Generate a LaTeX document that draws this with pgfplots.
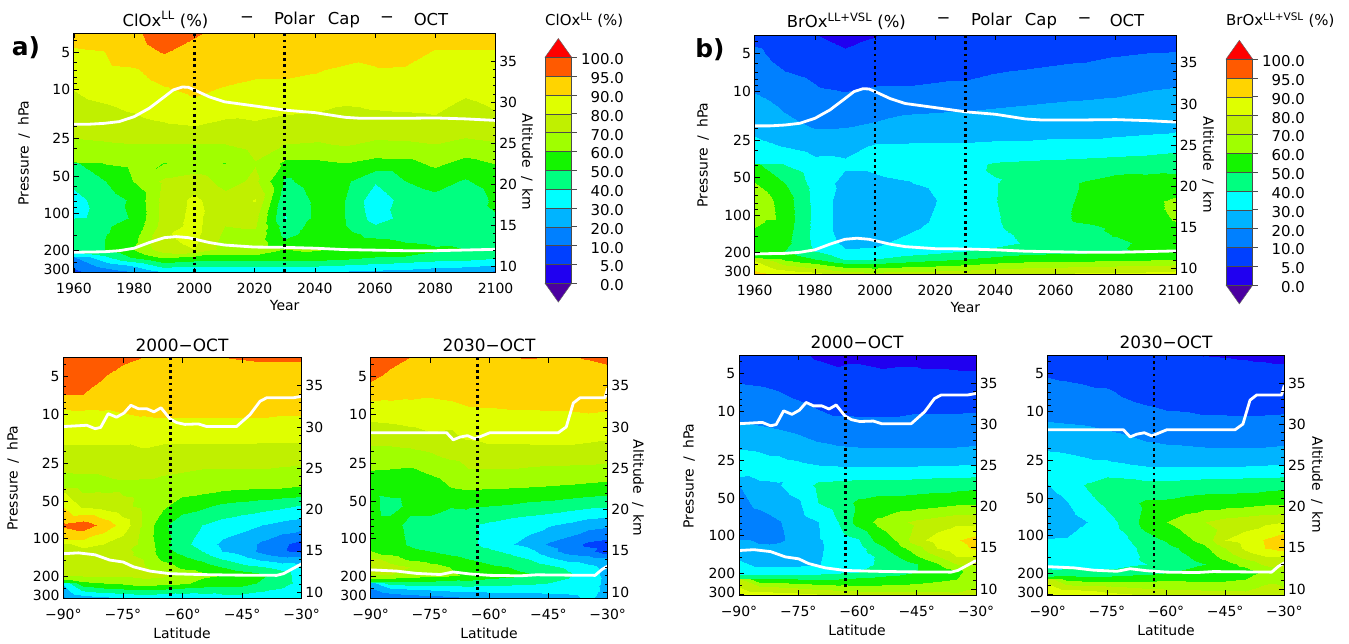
\documentclass[border=0pt]{standalone}
\usepackage{fontspec}
\usepackage{pgfplots}
\pgfplotsset{compat=1.18}
\setmainfont{DejaVu Sans}
\definecolor{c0}{RGB}{75,0,160}\definecolor{c1}{RGB}{32,0,240}\definecolor{c2}{RGB}{0,64,255}\definecolor{c3}{RGB}{0,128,255}
\definecolor{c4}{RGB}{0,180,255}\definecolor{c5}{RGB}{0,255,255}\definecolor{c6}{RGB}{0,255,128}\definecolor{c7}{RGB}{20,245,0}
\definecolor{c8}{RGB}{160,255,0}\definecolor{c9}{RGB}{192,240,0}\definecolor{c10}{RGB}{223,255,0}\definecolor{c11}{RGB}{255,212,0}
\definecolor{c12}{RGB}{255,90,0}\definecolor{c13}{RGB}{255,0,0}
\newcommand{\fs}[1]{\fontsize{#1}{#1}\selectfont}
\pgfplotsset{colormap={cb}{rgb255=(75,0,160) rgb255=(32,0,240) rgb255=(0,64,255) rgb255=(0,128,255) rgb255=(0,180,255) rgb255=(0,255,255) rgb255=(0,255,128) rgb255=(20,245,0) rgb255=(160,255,0) rgb255=(192,240,0) rgb255=(223,255,0) rgb255=(255,212,0) rgb255=(255,90,0) rgb255=(255,0,0)}}
\pgfplotsset{
 every axis/.append style={scale only axis,axis on top,line width=0.9bp,tick style={line width=0.7bp,black},
  major tick length=5bp,minor tick length=3bp,tick align=inside,tick label style={font=\fs{14}}},
 presticks/.style={ytick={5,10,25,50,100,200,300},yticklabels={5,10,25,50,100,200,\raisebox{5.5bp}{300}},
  minor ytick={4,6,7,8,9,20,30,40,60,70,80,90,150,250},ytick pos=left},
 years/.style={xmin=1960,xmax=2100,xtick={1960,1980,2000,2020,2040,2060,2080,2100},xticklabels={1960,1980,2000,2020,2040,2060,2080,2100},xticklabel style={yshift=-7bp}},
 lats/.style={xmin=-90,xmax=-30,xtick={-90,-75,-60,-45,-30},xticklabels={−90°,−75°,−60°,−45°,−30°},xticklabel style={yshift=-7bp}},
 metaexpr/.style={contour filled={number=14},point meta={ifthenelse(\thisrowno{0}<10,\thisrowno{0}/5,ifthenelse(\thisrowno{0}<90,1+\thisrowno{0}/10,10+(\thisrowno{0}-90)/5))}},
 ftop/.style={metaexpr,mesh/cols=15},
 flat/.style={metaexpr,mesh/cols=13},
 table/ttop/.style={header=false,row sep=\\,x expr={1960+10*mod(\coordindex,15)},y expr={10^(0.54+0.15*min(floor(\coordindex/15),10)+0.0625*max(floor(\coordindex/15)-10,0))}},
 table/tlat/.style={header=false,row sep=\\,x expr={-90+5*mod(\coordindex,13)},y expr={10^(0.54+0.15*min(floor(\coordindex/13),10)+0.0625*max(floor(\coordindex/13)-10,0))}},
 whl/.style={white,line width=2.8bp,no markers,line join=round},
 dotl/.style={black,line width=2.6bp,dash pattern=on 2.6bp off 3.6bp,no markers,forget plot},
}
\newcommand{\altaxis}[4]{%
\begin{axis}[at={(#1bp,-#2bp)},anchor=south west,width=#3bp,height=#4bp,xmin=0,xmax=1,ymin=9.27,ymax=38.39,axis x line=none,axis y line*=right,
 ytick={10,15,20,25,30,35},yticklabels={10,15,20,25,30,35},minor y tick num=4]
\addplot[draw=none,forget plot] coordinates {(0,10)(1,35)};
\end{axis}}
\newcommand{\vdl}[1]{\addplot[dotl] coordinates {(#1,3.53)(#1,301)};}
\newcommand{\topw}{
\addplot[whl] coordinates {(1960,19.1)(1965,19.1)(1970,18.8)(1975,18.2)(1980,16.6)(1985,14.2)(1990,11.5)(1993,10.1)(1996,9.57)(1998,9.62)(2000,10.1)(2005,11.5)(2010,12.6)(2020,13.6)(2030,14.7)(2040,15.4)(2050,16.8)(2055,17.1)(2070,17.1)(2080,17.0)(2090,17.3)(2100,17.8)};
\addplot[whl] coordinates {(1960,206)(1970,204)(1975,200)(1980,191)(1985,172)(1990,157)(1994,154)(1998,157)(2005,172)(2010,180)(2020,187)(2030,188)(2040,191)(2050,196)(2070,200)(2080,200)(2100,195)};
\vdl{2000}\vdl{2030}}
\newcommand{\wA}{
\addplot[whl] coordinates {(-90,12.6)(-84.1,12.3)(-82,13.1)(-80.6,12.8)(-78.7,9.93)(-76.6,10.6)(-74.7,9.8)(-73,8.5)(-71.1,9.06)(-69,9.06)(-67.2,9.6)(-65.4,8.9)(-63.2,10.9)(-61.5,11.7)(-59.4,12.1)(-56,12.0)(-53.9,12.6)(-46.4,12.6)(-43,10.1)(-40.5,7.9)(-38.8,7.4)(-32.1,7.4)(-30,7.2)};
\addplot[whl] coordinates {(-90,132)(-86.2,130)(-82,134.7)(-78.3,148.5)(-74.9,154)(-72.4,168)(-68.2,182)(-63.2,191)(-55.6,194)(-47.2,196)(-36.3,197)(-34.6,191)(-32.1,173)(-30,159)};
\vdl{-63}}
\newcommand{\wB}{
\addplot[whl] coordinates {(-90,14.1)(-70.8,14.1)(-69.1,16.1)(-67.4,15.3)(-65.5,14.9)(-63.6,15.8)(-59.8,14.1)(-42.5,14.1)(-40.5,12.7)(-38.7,8.15)(-37,7.4)(-30.7,7.4)(-30,6.2)};
\addplot[whl] coordinates {(-90,178)(-83.4,182)(-78.4,190)(-72.4,194)(-69.1,185)(-64.9,192)(-59.8,197)(-52.2,198.6)(-48,195)(-41.2,196)(-33.2,197)(-31.5,177)(-30,166)};
\vdl{-63}}
\newcommand{\cbar}[3]{%
\begin{axis}[at={(#1bp,-#2bp)},anchor=south west,width=26.7bp,height=263.6bp,xmin=0,xmax=1,ymin=-1,ymax=13,xtick=\empty,
 ytick={0,...,12},yticklabels={0.0,5.0,10.0,20.0,30.0,40.0,50.0,60.0,70.0,80.0,90.0,95.0,100.0},ytick pos=right,tick align=outside,
 yticklabel style={anchor=east,xshift=#3bp,yshift=-2bp,font=\fs{15}},axis line style={draw=none},clip=false,tick style={color=black!70,line width=0.7bp}]
\addplot[fill=c0,draw=black!60,line width=0.5bp] coordinates {(0,0)(1,0)(0.5,-1)} --cycle;
\addplot[fill=c13,draw=black!60,line width=0.5bp] coordinates {(0,12)(1,12)(0.5,13)} --cycle;
\addplot[fill=c1,draw=black!70,line width=0.5bp] coordinates {(0,0)(1,0)(1,1)(0,1)} --cycle;
\addplot[fill=c2,draw=black!70,line width=0.5bp] coordinates {(0,1)(1,1)(1,2)(0,2)} --cycle;
\addplot[fill=c3,draw=black!70,line width=0.5bp] coordinates {(0,2)(1,2)(1,3)(0,3)} --cycle;
\addplot[fill=c4,draw=black!70,line width=0.5bp] coordinates {(0,3)(1,3)(1,4)(0,4)} --cycle;
\addplot[fill=c5,draw=black!70,line width=0.5bp] coordinates {(0,4)(1,4)(1,5)(0,5)} --cycle;
\addplot[fill=c6,draw=black!70,line width=0.5bp] coordinates {(0,5)(1,5)(1,6)(0,6)} --cycle;
\addplot[fill=c7,draw=black!70,line width=0.5bp] coordinates {(0,6)(1,6)(1,7)(0,7)} --cycle;
\addplot[fill=c8,draw=black!70,line width=0.5bp] coordinates {(0,7)(1,7)(1,8)(0,8)} --cycle;
\addplot[fill=c9,draw=black!70,line width=0.5bp] coordinates {(0,8)(1,8)(1,9)(0,9)} --cycle;
\addplot[fill=c10,draw=black!70,line width=0.5bp] coordinates {(0,9)(1,9)(1,10)(0,10)} --cycle;
\addplot[fill=c11,draw=black!70,line width=0.5bp] coordinates {(0,10)(1,10)(1,11)(0,11)} --cycle;
\addplot[fill=c12,draw=black!70,line width=0.5bp] coordinates {(0,11)(1,11)(1,12)(0,12)} --cycle;
\end{axis}}
\newcommand{\T}[4][0]{\node[rotate=#1,inner sep=0pt,font=\fs{14}] at (#2bp,-#3bp) {#4};}
\newcommand{\W}[3]{\node[inner sep=0pt,font=\fs{16.5}] at (#1bp,-#2bp) {#3};}
\newcommand{\PP}{Pressure\hspace{.55em}/\hspace{.55em}hPa}
\newcommand{\AK}{Altitude\hspace{.55em}/\hspace{.55em}km}
\begin{document}
\begin{tikzpicture}
\useasboundingbox (0,0) rectangle (1349bp,-644bp);
% ---------- a) top
\begin{axis}[at={(73.9bp,-272.7bp)},anchor=south west,width=421.7bp,height=239.4bp,ymode=log,y dir=reverse,ymin=3.53,ymax=301,colormap name=cb,point meta min=-1,point meta max=13,presticks,years]
\addplot[ftop] table[ttop]{
92\\93\\94\\98\\96\\93\\93\\92\\92\\92\\92\\92\\93\\93\\93\\
89\\90\\93\\95.5\\93\\93\\92\\92\\92\\92\\91\\92\\89.5\\89.5\\89.5\\
87\\88\\89\\92\\92\\92\\91\\91\\90.3\\88.5\\89.5\\89\\87\\87\\87\\
80.5\\84\\86\\89.5\\91\\89.5\\88\\88\\87.5\\85.5\\86\\86\\85\\82\\84\\
77\\79\\81.5\\85\\88\\84\\83\\81.5\\81\\79.5\\80.5\\81\\81.5\\78\\80.5\\
74\\75.5\\77\\79\\80.3\\78\\79\\78\\78\\77\\77\\77\\78\\76\\78\\
68\\69\\70\\70\\70\\70\\74\\70\\69\\71\\68\\68.5\\70\\67\\69\\
59.5\\60.5\\63\\59.8\\62\\59.8\\69.5\\58\\58\\60\\57\\57\\62\\57\\60.5\\
48\\49.5\\60.5\\72\\76\\66\\72\\48\\55\\52\\41\\50\\54\\49\\56\\
37\\44\\52\\74\\82\\74\\80.5\\42\\52\\50\\34\\44\\47\\41\\53\\
36\\46\\51\\74\\83\\72\\73\\39.5\\52\\50\\36\\43\\44\\43\\49\\
40\\49\\53\\75\\83\\70\\71\\45\\53\\50.5\\41\\44\\43\\44\\46\\
45\\49.5\\56\\79\\83\\68\\68\\47\\54\\53\\47\\46\\45\\46\\46\\
50\\50\\58\\78\\82\\66\\66\\52\\55\\55\\53\\50\\47\\48\\47\\
45\\50\\61\\76\\80\\66\\66\\60\\61\\59\\59\\58\\52\\50\\49\\
32\\38\\52\\62\\58\\58\\58\\58\\56\\54\\50\\49\\46\\45\\42\\
20\\24\\32\\45\\42\\42\\42\\42\\42\\40\\38\\36\\34\\33\\30\\
8\\12\\18\\28\\27\\27\\27\\28\\28\\27\\26\\25\\22\\20\\16\\
};
\topw
\end{axis}
\altaxis{73.9}{272.7}{421.7}{239.4}
\cbar{545}{302.1}{51}
% ---------- b) top
\begin{axis}[at={(754.7bp,-274.3bp)},anchor=south west,width=421.3bp,height=239.3bp,ymode=log,y dir=reverse,ymin=3.53,ymax=301,colormap name=cb,point meta min=-1,point meta max=13,presticks,years]
\addplot[ftop] table[ttop]{
8.2\\7\\5\\3.5\\4.8\\6\\6.5\\7\\7\\7\\7\\7\\7\\7\\8\\
12\\8\\7\\5.5\\6\\6.5\\6.5\\7\\7.5\\8\\8.5\\9\\9.7\\10\\10.3\\
15\\10\\9\\7\\8\\8.5\\8.5\\9\\9.8\\10.5\\11.5\\12\\12.5\\13\\14\\
19\\14\\11\\9.8\\11\\11\\12\\12\\13\\15\\16\\17\\18\\19.7\\21\\
25\\19\\15\\14\\15\\18\\18.5\\19\\20\\21\\22\\22.5\\23\\24\\25\\
27\\23\\19.5\\19.7\\22\\24\\25\\25\\26\\26\\27\\27\\27\\27.5\\28\\
33\\29.5\\26\\27\\31\\31\\31\\31\\31.5\\31.5\\32\\32\\33\\34\\36\\
39.7\\39.5\\33\\31.5\\31.5\\33\\33\\37\\41\\42\\43\\44\\45\\46\\47\\
52\\50\\36\\27\\28.5\\29.5\\31.5\\38\\39.5\\45\\47\\51\\54\\53.5\\53\\
68\\55\\37\\25\\25\\25.5\\29.7\\38\\39.7\\45\\47\\52\\57\\57\\62\\
69\\56\\37\\25\\25\\26\\31\\38\\39\\45\\48\\52\\56\\57\\60.5\\
62\\55\\37\\25\\25\\27\\33\\38\\38.5\\44\\46\\47\\52\\56\\57\\
58\\54\\37\\26\\26\\30\\35\\38\\37\\42\\45\\47\\50.5\\54\\55\\
55\\53\\38\\28\\28\\33\\36\\38\\36.5\\41\\45\\47\\48\\52\\54\\
52\\50\\40\\31\\32\\35\\37\\40\\43\\46\\47\\48\\49\\51\\52\\
62\\58\\50\\39\\40\\44\\47\\50\\53\\55\\56\\56\\57\\58\\59\\
78\\72\\66\\57\\55\\58\\60\\62\\65\\67\\68\\69\\70\\71\\72\\
92\\88\\84\\76\\74\\75\\76\\77\\78\\80\\81\\82\\82\\83\\85\\
};
\topw
\end{axis}
\altaxis{754.7}{274.3}{421.3}{239.3}
\cbar{1226}{303.9}{51}
% ---------- a) 2000
\begin{axis}[at={(63.3bp,-598.3bp)},anchor=south west,width=238.4bp,height=240.6bp,ymode=log,y dir=reverse,ymin=3.53,ymax=301,colormap name=cb,point meta min=-1,point meta max=13,presticks,lats]
\addplot[flat] table[tlat]{
98\\98\\97.5\\96.5\\95\\94\\94\\94\\95\\95.5\\96\\96\\96\\
98\\97.5\\95.5\\93\\92\\92\\92\\92\\92\\92\\92\\92\\92\\
95.2\\95\\93\\92\\92\\92\\92\\92\\92\\92\\92\\92\\92\\
88\\88.5\\89\\90\\90.5\\91\\91\\91\\91\\91\\91\\90.5\\90.5\\
85\\85\\85\\85\\84\\84\\84\\84\\84\\84\\84\\84\\84\\
78\\78\\78\\78\\79.5\\78\\78\\78\\78\\78\\77\\77\\77\\
70.5\\71\\71\\72\\72\\72\\71\\70\\70\\70\\70\\69\\68\\
67\\67\\68\\68.5\\68\\66\\65\\64\\62\\61\\60.5\\60\\59\\
78\\78\\76\\72\\68\\62\\54.5\\52\\48\\46\\44\\42\\39\\
96\\98\\93.5\\86\\69\\52\\44\\40\\36\\33\\30\\27\\25\\
85\\85\\80\\75\\68\\54\\43\\36\\28\\25\\18\\12\\8\\
76\\76\\74\\71\\69\\54\\47\\40\\30\\26\\17\\11\\9\\
75\\75\\74\\71\\70\\58\\53\\48\\40\\34\\28\\24\\25\\
74\\74\\73\\72\\71\\66\\58\\56\\50\\44\\41\\36\\32\\
70\\72\\72\\72\\73\\72\\67\\62\\60\\56\\52\\45\\34\\
52\\58\\60\\62\\66\\64\\62\\57\\55\\55\\48\\45\\35\\
32\\42\\46\\48\\50\\48\\46\\45\\44\\44\\41\\38\\35\\
18\\24\\27\\30\\33\\30\\31\\33\\36\\36\\36\\35\\34\\
};
\wA
\end{axis}
\altaxis{63.3}{598.3}{238.4}{240.6}
% ---------- a) 2030
\begin{axis}[at={(370.7bp,-598.3bp)},anchor=south west,width=237bp,height=240.6bp,ymode=log,y dir=reverse,ymin=3.53,ymax=301,colormap name=cb,point meta min=-1,point meta max=13,presticks,lats]
\addplot[flat] table[tlat]{
98\\97\\95\\94\\94\\94.5\\95\\95\\95.3\\95\\94.5\\95.5\\96.5\\
96.5\\94\\93\\92\\92\\92\\92\\92\\92\\92\\92\\92\\93\\
92\\91.5\\91\\90.5\\91\\92\\92\\92\\92\\92\\92\\92\\92\\
83\\84\\85\\85.5\\86\\88\\88.5\\89\\89\\89.5\\89.5\\90\\89.5\\
76\\76.5\\78\\80\\79\\83\\84\\84\\84\\85\\85\\84\\83\\
68\\68\\69\\71\\75\\76\\78\\78\\78\\78\\78\\77\\76\\
60.5\\60\\59\\62\\65\\70\\70\\70\\69\\68\\68\\68\\67\\
53\\53\\53\\55\\59.7\\61\\60.3\\60\\59.5\\59\\58\\57\\56\\
52\\47\\52\\52\\50.5\\51\\50\\49\\47\\46\\44\\42\\41\\
53\\53\\48\\48\\45\\41\\38\\35\\33\\31\\28\\24\\22\\
53\\54\\49\\46\\45\\42\\37\\31\\27\\19\\15\\9\\8\\
56\\56\\52\\50\\47\\45\\42\\38\\33\\24\\16\\13\\7\\
65\\65\\58\\56\\53\\50\\47\\44\\40\\33\\27\\25\\22\\
75\\75\\70\\64\\60\\55\\52\\50\\47\\43\\38\\33\\27\\
70\\70\\66\\64\\62\\58\\55\\53\\51\\49\\42\\34\\27\\
45\\46\\46\\46\\45\\46\\44\\43\\42\\40\\37\\35\\27\\
25\\25\\28\\30\\32\\33\\33\\33\\33\\33\\33\\34\\27\\
10\\12\\14\\15\\17\\20\\22\\24\\25\\26\\27\\32\\25\\
};
\wB
\end{axis}
\altaxis{370.7}{598.3}{237}{240.6}
% ---------- b) 2000
\begin{axis}[at={(739bp,-595bp)},anchor=south west,width=237bp,height=240bp,ymode=log,y dir=reverse,ymin=3.53,ymax=301,colormap name=cb,point meta min=-1,point meta max=13,presticks,lats]
\addplot[flat] table[tlat]{
7\\6.5\\6\\5.5\\4.5\\4\\4.5\\4.3\\4\\4\\3.5\\3.5\\3.3\\
8\\7.5\\7\\6.5\\6\\5.5\\5.5\\5.3\\5.5\\5.5\\5.5\\5.3\\5.2\\
13\\12\\10\\8.7\\7.5\\7\\7\\7\\7\\7\\7\\7\\7\\
17\\16\\15\\13\\10.2\\9\\9\\9\\9\\9.5\\9.5\\9.5\\9.7\\
22\\21\\20\\18\\15\\14.5\\14\\14\\14\\14\\14\\14.5\\15\\
29.5\\29\\27.5\\25\\22\\20.5\\20\\20\\20\\20\\20\\20\\20.5\\
34\\33\\33\\32\\30.5\\30\\30\\30\\30\\30\\30.5\\30.5\\31\\
27\\29\\29.5\\35\\42\\43\\44\\44\\44\\45\\46\\46\\47\\
20\\22\\25\\28.5\\40\\45\\52\\54\\54\\55\\56\\58\\58\\
15\\16\\19.5\\25\\29.7\\40\\54\\62\\68\\72\\75\\78\\78\\
19\\18.5\\18\\25\\29\\34\\39\\53\\61\\77\\84\\89\\92\\
22\\22\\24\\26\\28.5\\34\\36\\46\\56\\66\\80\\86\\91\\
26\\26\\27\\27\\29\\34\\35\\41\\50\\60\\70\\80\\80\\
29\\29\\29\\28.5\\29.5\\34\\35\\41\\43\\50\\59\\70\\72\\
33\\33\\33\\34\\36\\38\\40\\43\\46\\50\\52\\56\\68\\
52\\52\\51\\50\\49\\50\\52\\53\\54\\56\\58\\60\\68\\
72\\72\\70\\68\\65\\63\\62\\62\\62\\63\\64\\65\\70\\
88\\87\\85\\84\\82\\80\\78\\77\\76\\75\\74\\72\\72\\
};
\wA
\end{axis}
\altaxis{739}{595}{237}{240}
% ---------- b) 2030
\begin{axis}[at={(1047.7bp,-595bp)},anchor=south west,width=236.6bp,height=240bp,ymode=log,y dir=reverse,ymin=3.53,ymax=301,colormap name=cb,point meta min=-1,point meta max=13,presticks,lats]
\addplot[flat] table[tlat]{
7\\6.5\\6\\5.5\\5\\5\\5\\5.1\\4.9\\4.8\\4.6\\4.3\\4\\
9.5\\9\\8.5\\7.5\\6.5\\6\\6\\5.8\\6\\6\\6\\6\\6\\
13\\12.5\\11.5\\11\\9\\8\\7.5\\7.5\\7\\7\\7\\7\\7\\
17\\16.5\\16\\15\\13\\11.5\\10\\9.8\\9.3\\9.3\\9.2\\9.2\\9.4\\
22\\21.5\\21\\19.7\\18\\16\\15\\15\\14\\14\\14\\14.5\\15\\
29\\28.5\\27.5\\26\\24\\22\\21\\20.5\\20\\20\\20\\20\\20.5\\
34\\33\\32\\32\\31\\30\\30\\30\\30\\30\\30\\30.5\\31\\
35\\35\\41\\46\\45\\43\\43\\44\\45\\45\\46\\46\\47\\
30\\29.5\\37\\42\\47\\52\\52\\54\\55\\55\\56\\58\\58\\
26\\25\\30\\37\\43\\55\\60\\65\\70\\74\\76\\78\\80\\
30.5\\31\\33\\35\\39\\46\\51\\58\\64\\80\\84\\90.5\\93\\
31\\33\\35\\36\\37\\43\\47\\52\\58\\70\\82\\90\\92\\
33\\34\\36\\37\\37\\41.5\\46\\49.5\\54\\64\\74\\80\\81\\
34\\35\\36\\37\\38\\40\\44\\47\\50\\56\\63\\72\\76\\
42\\44\\42\\42\\45\\46\\49\\52\\52\\53\\55\\62\\68\\
55\\56\\55\\55\\56\\56\\58\\58\\58\\58\\60\\66\\68\\
75\\75\\74\\72\\70\\68\\67\\66\\66\\66\\66\\72\\70\\
91\\90\\88\\84\\82\\80\\78\\77\\76\\75\\74\\74\\72\\
};
\wB
\end{axis}
\altaxis{1047.7}{595}{236.6}{240}
% ---------- texts
\W{165.5}{20}{ClOx\textsuperscript{LL} (\%)}\W{247}{20}{−}\W{317}{20}{Polar\hspace{.8em}Cap}\W{387}{20}{−}\W{431}{20}{OCT}
\W{846.4}{21}{BrOx\textsuperscript{LL+VSL} (\%)}\W{943.6}{21}{−}\W{1014}{21}{Polar\hspace{.8em}Cap}\W{1084.4}{21}{−}\W{1127}{21}{OCT}
\node[anchor=west,inner sep=0pt,font=\fs{15}] at (545bp,-20bp) {ClOx\textsuperscript{LL} (\%)};
\node[anchor=west,inner sep=0pt,font=\fs{15}] at (1226bp,-20bp) {BrOx\textsuperscript{LL+VSL} (\%)};
\node[inner sep=0pt,font=\fs{25}\bfseries] at (26bp,-48bp) {a)};
\node[inner sep=0pt,font=\fs{25}\bfseries] at (710bp,-50bp) {b)};
\T{284.7}{306}{Year}\T{965.3}{308}{Year}
\T{182}{633}{Latitude}\T{489}{633}{Latitude}\T{857}{630}{Latitude}\T{1166}{630}{Latitude}
\T[90]{24}{153}{\PP}\T[90]{703}{155}{\PP}\T[90]{13}{478}{\PP}\T[90]{689}{476}{\PP}
\T[-90]{527}{162}{\AK}\T[-90]{1208}{165}{\AK}\T[-90]{638}{488}{\AK}\T[-90]{1317}{485}{\AK}
\node[inner sep=0pt,font=\fs{17}] at (182bp,-345bp) {2000−OCT};
\node[inner sep=0pt,font=\fs{17}] at (489bp,-345bp) {2030−OCT};
\node[inner sep=0pt,font=\fs{17}] at (857bp,-342bp) {2000−OCT};
\node[inner sep=0pt,font=\fs{17}] at (1166bp,-342bp) {2030−OCT};
\end{tikzpicture}
\end{document}
